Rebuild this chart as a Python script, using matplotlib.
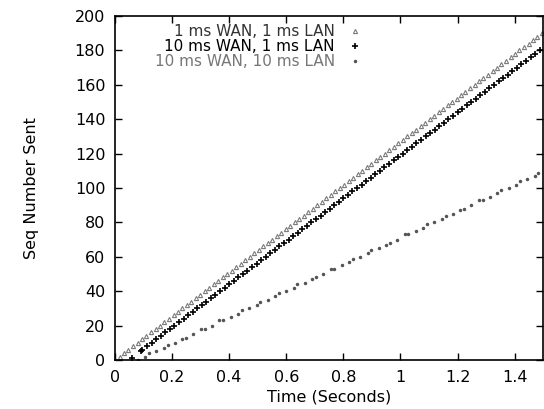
import numpy as np
import matplotlib
matplotlib.use("Agg")
import matplotlib.pyplot as plt

plt.rcParams['font.family'] = ['DejaVu Sans']

labels = ['1 ms WAN, 1 ms LAN', '10 ms WAN, 1 ms LAN', '10 ms WAN, 10 ms LAN']
xticks = [0, 0.2, 0.4, 0.6, 0.8, 1.0, 1.2, 1.4]
xtick_labels = ['0', '0.2', '0.4', '0.6', '0.8', '1', '1.2', '1.4']
yticks = [0, 20, 40, 60, 80, 100, 120, 140, 160, 180, 200]

# 1 ms WAN, 1 ms LAN
s1_time = [0.000, 0.016, 0.031, 0.047, 0.063, 0.079, 0.094, 0.110, 0.126, 0.142,
           0.157, 0.173, 0.189, 0.205, 0.220, 0.236, 0.252, 0.268, 0.283, 0.299,
           0.315, 0.331, 0.346, 0.362, 0.378, 0.394, 0.409, 0.425, 0.441, 0.457,
           0.472, 0.488, 0.504, 0.520, 0.535, 0.551, 0.567, 0.583, 0.598, 0.614,
           0.630, 0.646, 0.661, 0.677, 0.693, 0.709, 0.724, 0.740, 0.756, 0.772,
           0.787, 0.803, 0.819, 0.835, 0.850, 0.866, 0.882, 0.898, 0.913, 0.929,
           0.945, 0.961, 0.976, 0.992, 1.008, 1.024, 1.039, 1.055, 1.071, 1.087,
           1.102, 1.118, 1.134, 1.150, 1.165, 1.181, 1.197, 1.213, 1.228, 1.244,
           1.260, 1.276, 1.291, 1.307, 1.323, 1.339, 1.354, 1.370, 1.386, 1.402,
           1.417, 1.433, 1.449, 1.465, 1.480, 1.496]
s1_seq = [0, 2, 4, 6, 8, 10, 12, 14, 16, 18,
          20, 22, 24, 26, 28, 30, 32, 34, 36, 38,
          40, 42, 44, 46, 48, 50, 52, 54, 56, 58,
          60, 62, 64, 66, 68, 70, 72, 74, 76, 78,
          80, 82, 84, 86, 88, 90, 92, 94, 96, 98,
          100, 102, 104, 106, 108, 110, 112, 114, 116, 118,
          120, 122, 124, 126, 128, 130, 132, 134, 136, 138,
          140, 142, 144, 146, 148, 150, 152, 154, 156, 158,
          160, 162, 164, 166, 168, 170, 172, 174, 176, 178,
          180, 182, 184, 186, 188, 190]

# 10 ms WAN, 1 ms LAN
s2_time = [0.060, 0.090, 0.096, 0.112, 0.128, 0.144, 0.160, 0.176, 0.192,
           0.208, 0.224, 0.240, 0.256, 0.272, 0.288, 0.304, 0.320, 0.336, 0.352,
           0.368, 0.384, 0.400, 0.416, 0.432, 0.448, 0.464, 0.480, 0.496, 0.512,
           0.528, 0.544, 0.560, 0.576, 0.592, 0.608, 0.624, 0.640, 0.656, 0.672,
           0.688, 0.704, 0.720, 0.736, 0.752, 0.768, 0.784, 0.800, 0.816, 0.832,
           0.848, 0.864, 0.880, 0.896, 0.912, 0.928, 0.944, 0.960, 0.976, 0.992,
           1.008, 1.024, 1.040, 1.056, 1.072, 1.088, 1.104, 1.120, 1.136, 1.152,
           1.168, 1.184, 1.200, 1.216, 1.232, 1.248, 1.264, 1.280, 1.296, 1.312,
           1.328, 1.344, 1.360, 1.376, 1.392, 1.408, 1.424, 1.440, 1.456, 1.472,
           1.488]
s2_seq = [1, 5, 6, 8, 10, 12, 14, 16, 18,
          20, 22, 24, 26, 28, 30, 32, 34, 36, 38,
          40, 42, 44, 46, 48, 50, 52, 54, 56, 58,
          60, 62, 64, 66, 68, 70, 72, 74, 76, 78,
          80, 82, 84, 86, 88, 90, 92, 94, 96, 98,
          100, 102, 104, 106, 108, 110, 112, 114, 116, 118,
          120, 122, 124, 126, 128, 130, 132, 134, 136, 138,
          140, 142, 144, 146, 148, 150, 152, 154, 156, 158,
          160, 162, 164, 166, 168, 170, 172, 174, 176, 178,
          180]

# 10 ms WAN, 10 ms LAN
s3_time = [0.080, 0.106, 0.119, 0.145, 0.171, 0.184, 0.210, 0.236, 0.249,
           0.275, 0.301, 0.314, 0.340, 0.366, 0.379, 0.405, 0.431, 0.444,
           0.470, 0.496, 0.509, 0.535, 0.561, 0.574, 0.600, 0.626, 0.639,
           0.665, 0.691, 0.704, 0.730, 0.756, 0.769, 0.794, 0.820, 0.833,
           0.859, 0.885, 0.898, 0.924, 0.950, 0.963, 0.989, 1.015, 1.028,
           1.054, 1.080, 1.093, 1.119, 1.145, 1.158, 1.184, 1.210, 1.223,
           1.249, 1.275, 1.288, 1.314, 1.340, 1.353, 1.379, 1.405, 1.418,
           1.444, 1.470, 1.483]
s3_seq = [0, 2, 4, 5, 7, 9, 10, 12, 13,
          15, 18, 18, 20, 23, 23, 25, 27, 29,
          30, 32, 34, 35, 37, 39, 40, 42, 44,
          45, 47, 48, 50, 53, 53, 55, 57, 59,
          60, 62, 64, 65, 67, 68, 70, 73, 73,
          75, 77, 79, 80, 82, 84, 85, 87, 88,
          90, 93, 93, 95, 97, 99, 100, 102, 104,
          105, 107, 109]

fig = plt.figure(figsize=(5.44, 4.09), dpi=100)
ax = fig.add_axes([0.2114, 0.1198, 0.787, 0.841])

ax.plot(s1_time, s1_seq, ls='none', marker='^', ms=3, mfc='none', mec='#7a7a7a',
        mew=0.8, label=labels[0])
ax.plot(s2_time, s2_seq, ls='none', marker='+', ms=4.5, color='black', mew=1.2,
        label=labels[1])
ax.plot(s3_time, s3_seq, ls='none', marker='.', ms=3, color='#555555',
        label=labels[2])

ax.set_xlim(0, 1.5)
ax.set_ylim(0, 200)
ax.set_xticks(xticks)
ax.set_xticklabels(xtick_labels)
ax.set_yticks(yticks)
ax.tick_params(direction='in', top=True, right=True, length=5, width=1,
               labelsize=11.5, pad=7)
for sp in ax.spines.values():
    sp.set_linewidth(1.2)

ax.set_xlabel('Time (Seconds)', fontsize=11.5)
ax.set_ylabel('Seq Number Sent', fontsize=11.5)
ax.xaxis.set_label_coords(0.5, -0.108)
ax.xaxis.label.set_va('center')
ax.yaxis.set_label_coords(-0.194, 0.5)
ax.yaxis.label.set_va('center')

leg = ax.legend(loc='upper right', bbox_to_anchor=(0.592, 0.995), frameon=False,
                markerfirst=False, fontsize=11, labelspacing=0,
                handlelength=1.0, handletextpad=0.8, borderaxespad=0)
for col in leg._legend_handle_box.get_children():
    col.align = 'right'
leg.get_texts()[0].set_color('#333333')
leg.get_texts()[2].set_color('#777777')

fig.savefig('out.png', dpi=100)
